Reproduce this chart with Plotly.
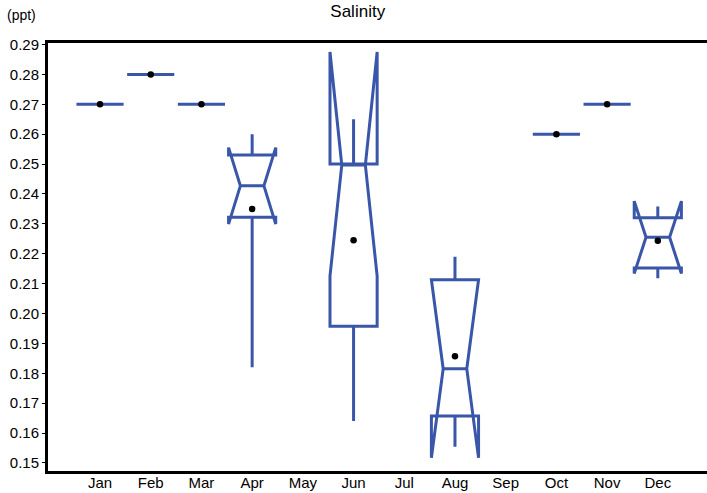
import plotly.graph_objects as go

months = ["Jan", "Feb", "Mar", "Apr", "May", "Jun", "Jul", "Aug", "Sep", "Oct", "Nov", "Dec"]
# months with data (index into months)
box_pos = [0, 1, 2, 3, 5, 7, 9, 10, 11]
lower_fence = [0.27, 0.28, 0.27, 0.182, 0.164, 0.1554, 0.26, 0.27, 0.2118]
q1_vals = [0.27, 0.28, 0.27, 0.2322, 0.1957, 0.1657, 0.26, 0.27, 0.2152]
median_vals = [0.27, 0.28, 0.27, 0.2427, 0.25, 0.1815, 0.26, 0.27, 0.2255]
q3_vals = [0.27, 0.28, 0.27, 0.253, 0.25, 0.2113, 0.26, 0.27, 0.232]
upper_fence = [0.27, 0.28, 0.27, 0.26, 0.265, 0.219, 0.26, 0.27, 0.2358]
notch_span = [0.0, 0.0, 0.0, 0.0128, 0.0375, 0.0298, 0.0, 0.0, 0.0121]
mean_vals = [0.27, 0.28, 0.27, 0.235, 0.2245, 0.1857, 0.26, 0.27, 0.2243]

y_ticks = [0.15, 0.16, 0.17, 0.18, 0.19, 0.20, 0.21, 0.22, 0.23, 0.24, 0.25, 0.26, 0.27, 0.28, 0.29]

blue = "#3a56a8"
font_family = "Liberation Sans, Arial, sans-serif"

fig = go.Figure()
fig.add_trace(go.Box(
    x=box_pos,
    q1=q1_vals,
    median=median_vals,
    q3=q3_vals,
    lowerfence=lower_fence,
    upperfence=upper_fence,
    notchspan=notch_span,
    notched=True,
    notchwidth=0.25,
    width=0.93,
    whiskerwidth=0,
    line=dict(color=blue, width=3),
    fillcolor="rgba(0,0,0,0)",
    hoverinfo="skip",
    showlegend=False,
))
fig.add_trace(go.Scatter(
    x=box_pos,
    y=mean_vals,
    mode="markers",
    marker=dict(color="black", size=6.5),
    hoverinfo="skip",
    showlegend=False,
))

fig.update_layout(
    width=707,
    height=493,
    margin=dict(l=48, r=0, t=43, b=22),
    paper_bgcolor="white",
    plot_bgcolor="white",
    font=dict(family=font_family, size=15, color="black"),
    title=dict(text="Salinity", x=0.506, xref="container", xanchor="center",
               y=0.978, yref="container", yanchor="middle",
               font=dict(family=font_family, size=17, color="black")),
    xaxis=dict(
        range=[-1.026, 11.97],
        tickmode="array",
        tickvals=list(range(len(months))),
        ticktext=months,
        showgrid=False,
        zeroline=False,
        showline=True,
        linecolor="black",
        linewidth=3,
        mirror=True,
        ticks="",
        ticklabelstandoff=-4,
        tickfont=dict(size=15),
    ),
    yaxis=dict(
        range=[0.1473, 0.2905],
        tickmode="array",
        tickvals=y_ticks,
        ticktext=[f"{v:.2f}" for v in y_ticks],
        showgrid=False,
        zeroline=False,
        showline=True,
        linecolor="black",
        linewidth=3,
        ticks="outside",
        ticklen=3,
        tickwidth=1,
        tickcolor="black",
        tickfont=dict(size=15),
    ),
    annotations=[dict(text="(ppt)", xref="paper", yref="paper", x=-0.065, y=(471 - 15) / 428,
                      xanchor="left", yanchor="middle", showarrow=False,
                      font=dict(family=font_family, size=14, color="black"))],
)

fig.write_html("out.html", config={"displayModeBar": False},
               post_script="document.body.style.margin='0px';")
